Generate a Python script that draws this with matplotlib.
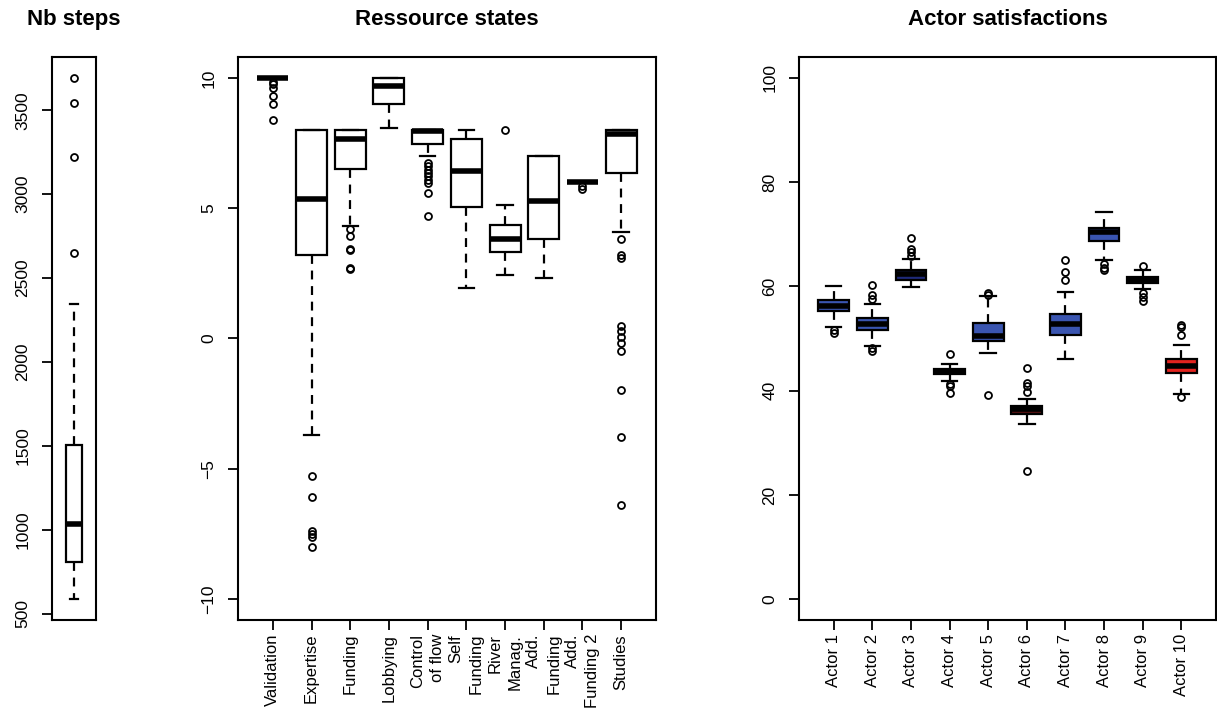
import numpy as np
import matplotlib.pyplot as plt

plt.rcParams['font.family'] = ['Liberation Sans', 'DejaVu Sans']

# --- Nb steps (single box) ---
steps_q1, steps_med, steps_q3 = 809, 1034, 1502
steps_whislo, steps_whishi = 586, 2343
steps_fliers = [3693, 3540, 3219, 2647]

# --- Ressource states ---
res_labels = ['Validation', 'Expertise', 'Funding', 'Lobbying', 'Control\nof flow',
              'Self\nFunding', 'River\nManag.', 'Add.\nFunding', 'Add.\nFunding 2', 'Studies']
res_q1 = [10.0, 3.21, 6.51, 9.0, 7.48, 5.05, 3.31, 3.80, 6.0, 6.36]
res_med = [10.0, 5.36, 7.66, 9.68, 7.95, 6.42, 3.80, 5.26, 6.0, 7.83]
res_q3 = [10.0, 8.0, 8.0, 10.0, 8.0, 7.66, 4.36, 7.0, 6.0, 8.0]
res_whislo = [10.0, -3.69, 4.31, 8.08, 7.02, 1.94, 2.42, 2.31, 6.0, 4.10]
res_whishi = [10.0, 8.0, 8.0, 10.0, 8.0, 8.0, 5.12, 7.0, 6.0, 8.0]
res_fliers = [
    [9.85, 9.75, 9.6, 9.3, 9.0, 8.4],
    [-5.29, -6.09, -7.4, -7.5, -7.6, -8.0],
    [4.2, 3.93, 3.45, 3.4, 2.72, 2.65],
    [],
    [6.74, 6.61, 6.48, 6.36, 6.23, 6.1, 5.97, 5.59, 4.69],
    [],
    [8.0],
    [],
    [5.85, 5.75],
    [3.8, 3.2, 3.1, 0.47, 0.28, 0.05, -0.17, -0.49, -1.99, -3.79, -6.38],
]

# --- Actor satisfactions ---
act_labels = ['Actor %d' % i for i in range(1, 11)]
act_q1 = [55.3, 51.7, 61.3, 43.2, 49.6, 35.6, 50.7, 68.7, 60.6, 43.3]
act_med = [56.3, 52.8, 62.3, 43.7, 50.5, 36.4, 52.8, 70.4, 61.2, 44.7]
act_q3 = [57.4, 53.9, 63.1, 44.2, 52.9, 37.1, 54.7, 71.2, 61.8, 46.1]
act_whislo = [52.3, 48.6, 59.9, 41.9, 47.2, 33.6, 46.1, 65.0, 59.4, 39.4]
act_whishi = [60.0, 56.7, 65.2, 45.1, 58.1, 38.3, 58.9, 74.2, 63.1, 48.7]
act_fliers = [
    [51.7, 51.0],
    [60.3, 58.4, 57.6, 48.1, 47.6],
    [69.3, 67.2, 66.5, 65.8],
    [47.0, 41.3, 40.8, 39.5],
    [58.7, 58.4, 39.2],
    [44.4, 41.5, 40.8, 39.8, 24.6],
    [65.0, 62.8, 61.3],
    [64.2, 63.6, 63.1],
    [64.0, 58.7, 57.9, 57.2],
    [52.6, 52.2, 50.7, 38.8],
]
act_colors = ['#3a55b0', '#3a55b0', '#1f2a7a', '#101018', '#3a55b0',
              '#5a1212', '#3a55b0', '#3a55b0', '#101018', '#e3231f']


def make_stats(q1, med, q3, lo, hi, fl):
    return [dict(q1=a, med=b, q3=c, whislo=d, whishi=e, fliers=f)
            for a, b, c, d, e, f in zip(q1, med, q3, lo, hi, fl)]


def draw(ax, stats, width, fills=None):
    bp = ax.bxp(stats, widths=width, capwidths=width * 0.5, patch_artist=True,
                showfliers=True,
                boxprops=dict(linewidth=1.6, edgecolor='black', facecolor='white'),
                medianprops=dict(linewidth=4, color='black', solid_capstyle='butt'),
                whiskerprops=dict(linewidth=1.6, linestyle=(0, (4, 3)), color='black'),
                capprops=dict(linewidth=1.6, color='black'),
                flierprops=dict(marker='o', markerfacecolor='none', markeredgecolor='black',
                                markersize=5, markeredgewidth=1.3))
    if fills:
        for patch, c in zip(bp['boxes'], fills):
            patch.set_facecolor(c)
    return bp


def style(ax, title):
    for s in ax.spines.values():
        s.set_linewidth(1.5)
    ax.set_title(title, fontsize=16, fontweight='bold', pad=23)
    ax.tick_params(axis='y', direction='out', length=7.5, width=1.3, pad=8,
                   labelsize=12.5, labelrotation=90)
    for t in ax.get_yticklabels():
        t.set_verticalalignment('center')
    ax.tick_params(axis='x', direction='out', length=7, width=1.3, pad=3, labelsize=12)


fig = plt.figure(figsize=(12.17, 7.11), dpi=100)
W, H = 1217, 711
bottom, height = (H - 620) / H, (620 - 57) / H

ax1 = fig.add_axes([52 / W, bottom, 44 / W, height])
draw(ax1, make_stats([steps_q1], [steps_med], [steps_q3], [steps_whislo], [steps_whishi],
                     [steps_fliers]), 0.4)
ax1.set_xlim(0.46, 1.54)
ax1.set_ylim(462, 3817)
ax1.set_yticks([500, 1000, 1500, 2000, 2500, 3000, 3500])
style(ax1, 'Nb steps')
ax1.set_xticks([])

ax2 = fig.add_axes([238 / W, bottom, 418 / W, height])
draw(ax2, make_stats(res_q1, res_med, res_q3, res_whislo, res_whishi, res_fliers), 0.8)
ax2.set_xlim(0.1, 10.9)
ax2.set_ylim(-10.8, 10.8)
ax2.set_yticks([-10, -5, 0, 5, 10])
style(ax2, 'Ressource states')
ax2.set_xticks(range(1, 11))
ax2.set_xticklabels(res_labels, rotation=90, ha='center', va='top',
                    multialignment='right', linespacing=1.45)

ax3 = fig.add_axes([799 / W, bottom, 417 / W, height])
draw(ax3, make_stats(act_q1, act_med, act_q3, act_whislo, act_whishi, act_fliers), 0.8,
     fills=act_colors)
ax3.set_xlim(0.1, 10.9)
ax3.set_ylim(-4, 104)
ax3.set_yticks([0, 20, 40, 60, 80, 100])
style(ax3, 'Actor satisfactions')
ax3.set_xticks(range(1, 11))
ax3.set_xticklabels(act_labels, rotation=90, ha='center', va='top')

fig.savefig('out.png', dpi=100)
